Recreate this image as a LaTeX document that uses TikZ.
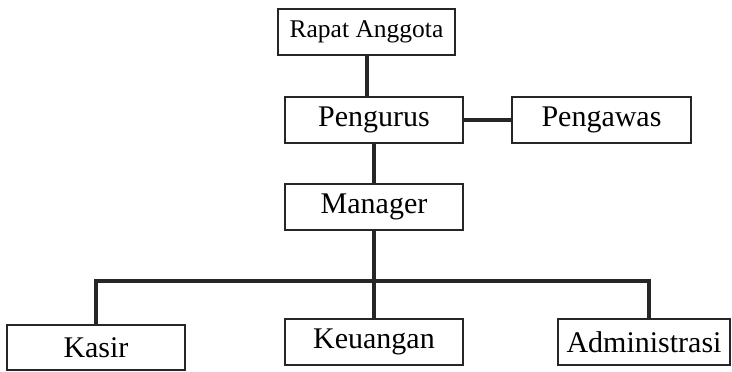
\documentclass[tikz,border=0pt]{standalone}
\usepackage{fontspec}
\setmainfont{Liberation Serif}
\begin{document}
\begin{tikzpicture}[x=1pt,y=-1pt,
  box/.style={draw=black!85,line width=2.6pt,minimum width=178pt,minimum height=46pt,inner sep=0pt,font=\fontsize{30}{34}\selectfont},
  link/.style={draw=black!85,line width=4pt}]
\useasboundingbox (0,0) rectangle (732,372);
\node[box,font=\fontsize{25.5}{30}\selectfont,minimum width=177pt] (ra) at (366.5,32) {Rapat Anggota};
\node[box] (pg) at (374,120) {Pengurus};
\node[box,minimum width=179pt] (pw) at (601.5,120) {Pengawas};
\node[box] (mg) at (374,207) {Manager};
\node[box,minimum height=45pt] (ks) at (96,347.5) {Kasir};
\node[box] (ku) at (374,342) {Keuangan};
\node[box,minimum width=172pt] (ad) at (644,342) {Administrasi};
\coordinate (bar) at (374,281);

\draw[link] (ra.south) -- (ra.south |- pg.north);
\draw[link] (pg) -- (pw);
\draw[link] (pg) -- (mg);
\draw[link] (mg.south) -- (bar);
\draw[link] (ks.north) |- (bar) -| ([xshift=5pt]ad.north);
\draw[link] (bar) -- (ku.north);
\end{tikzpicture}
\end{document}
